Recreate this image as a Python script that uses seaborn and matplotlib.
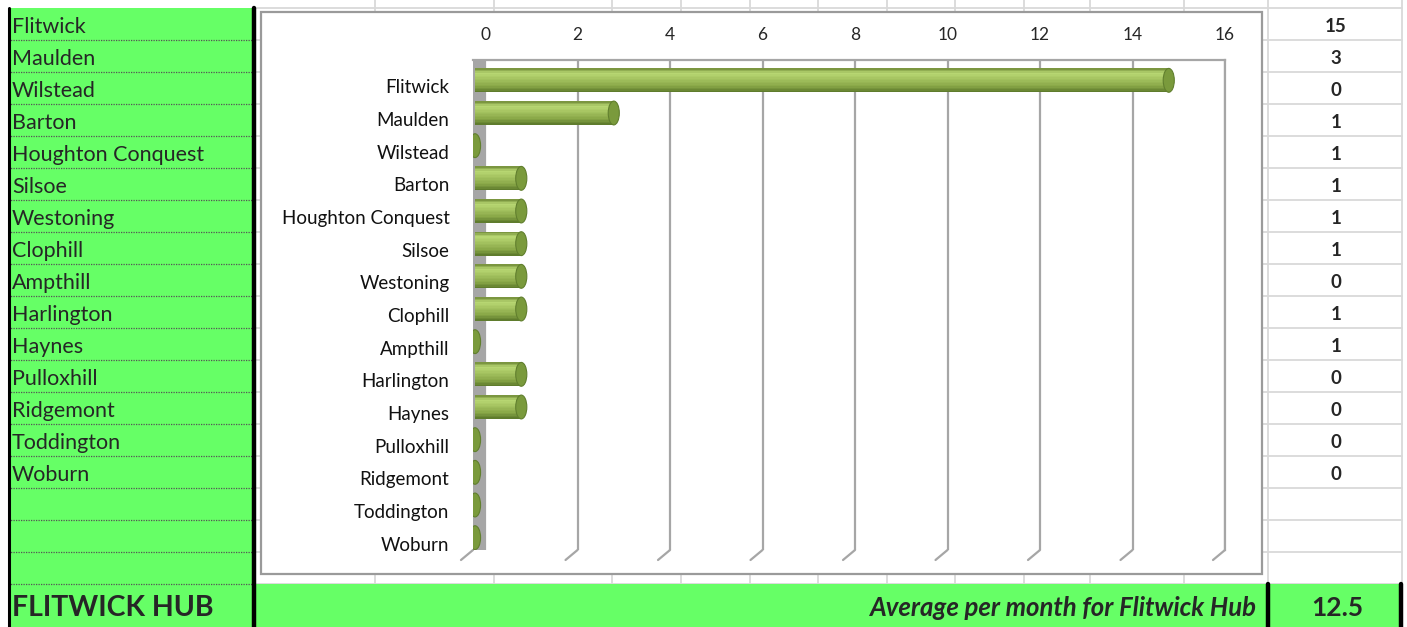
import numpy as np
import pandas as pd
import matplotlib
matplotlib.use("Agg")
import matplotlib.pyplot as plt
import seaborn as sns
from matplotlib.patches import Rectangle, Ellipse
from matplotlib.transforms import ScaledTranslation
from matplotlib.colors import LinearSegmentedColormap

# ---------------- data ----------------
towns = ["Flitwick", "Maulden", "Wilstead", "Barton", "Houghton Conquest", "Silsoe",
         "Westoning", "Clophill", "Ampthill", "Harlington", "Haynes", "Pulloxhill",
         "Ridgemont", "Toddington", "Woburn"]
counts = [15, 3, 0, 1, 1, 1, 1, 1, 0, 1, 1, 0, 0, 0, 0]
x_ticks = [0, 2, 4, 6, 8, 10, 12, 14, 16]
hub_title = "FLITWICK HUB"
avg_label = "Average per month for Flitwick Hub"
avg_value = "12.5"

sns.set_theme(style="white")
plt.rcParams["font.family"] = ["Lato", "DejaVu Sans"]

W, H = 1407, 627
fig = plt.figure(figsize=(W / 100, H / 100), dpi=100)
fig.patch.set_facecolor("white")

# ---------------- spreadsheet background (pixel coordinates) ----------------
bg = fig.add_axes([0, 0, 1, 1])
bg.set_xlim(0, W)
bg.set_ylim(H, 0)
bg.axis("off")

GREEN = "#66ff66"
GRID = "#d9d9d9"
ROW, TOP, NROWS = 32, 8, 18
HUB_TOP = TOP + ROW * NROWS

for k in range(NROWS + 1):
    y = TOP + k * ROW
    bg.plot([253, 1402], [y, y], color=GRID, lw=1.3, zorder=1)
for x in [375, 494, 612, 681, 750, 818, 887, 955, 1024, 1090, 1184, 1268, 1402]:
    bg.plot([x, x], [0, HUB_TOP], color=GRID, lw=1.3, zorder=1)

# left green column
bg.add_patch(Rectangle((8, TOP), 245, HUB_TOP - TOP, facecolor=GREEN, edgecolor="none", zorder=2))
for k in range(1, NROWS + 1):
    y = TOP + k * ROW
    bg.plot([8, 252], [y, y], color="#555555", lw=0.9, ls=(0, (1, 1)), zorder=3)
for i, t in enumerate(towns):
    bg.text(12, TOP + i * ROW + 19, t, fontsize=15.5, va="center", ha="left", zorder=4)

# right value column
for i, v in enumerate(counts):
    bg.text(1336, TOP + i * ROW + 19, str(v), fontsize=13.5, fontweight="bold",
            va="center", ha="center", zorder=4)

# hub row
bg.add_patch(Rectangle((8, HUB_TOP), 1393, H - HUB_TOP, facecolor=GREEN, edgecolor="none", zorder=2))
bg.text(12, 608, hub_title, fontsize=20.5, fontweight="bold", va="center", ha="left", zorder=4)
bg.text(1256, 608, avg_label, fontsize=18.5, fontweight="bold", fontstyle="italic",
        va="center", ha="right", zorder=4)
bg.text(1337, 608, avg_value, fontsize=19, fontweight="bold", va="center", ha="center", zorder=4)

# black borders
bg.plot([8.5, 8.5], [TOP, H], color="black", lw=2.2, zorder=5)
bg.plot([253.5, 253.5], [TOP, H], color="black", lw=3.2, zorder=5)
bg.plot([1267.5, 1267.5], [HUB_TOP, H], color="black", lw=3.2, zorder=5)
bg.plot([1400.5, 1400.5], [HUB_TOP, H], color="black", lw=3.2, zorder=5)

# chart frame
bg.add_patch(Rectangle((261, 12), 1001, 562, facecolor="white", edgecolor="#9a9a9a", lw=1.6, zorder=6))

# ---------------- chart ----------------
ax = fig.add_axes([473 / W, 1 - 550 / H, 752 / W, 490 / H])
ax.set_facecolor("none")
df = pd.DataFrame({"town": towns, "count": counts})
sns.barplot(data=df, x="count", y="town", orient="h", width=0.73, color="#9bbb59",
            ax=ax, zorder=3)

XMIN, XMAX = -0.26, 16
ax.set_xlim(XMIN, XMAX)
ax.set_ylim(len(towns) - 0.5, -0.5)

ax.axvspan(XMIN, 0, color="#a6a6a6", zorder=1, lw=0)
ax.set_xticks(x_ticks)
ax.grid(axis="x", color="#a6a6a6", lw=1.6, zorder=0)
ax.grid(axis="y", visible=False)
ax.xaxis.tick_top()
ax.tick_params(axis="x", length=0, pad=12, labelsize=12.5)
ax.tick_params(axis="y", length=0, pad=17, labelsize=13.5, labelcolor="#111111")
ax.set_yticks(np.arange(len(towns)) + 10 / 32.67, labels=towns)
ax.set_xlabel("")
ax.set_ylabel("")
for s in ["left", "bottom"]:
    ax.spines[s].set_visible(False)
for s in ["top", "right"]:
    ax.spines[s].set_color("#a6a6a6")
    ax.spines[s].set_linewidth(1.6)

# floor diagonals of the 3D grid
for t in [XMIN] + x_ticks[1:]:
    ax.annotate("", xy=(t, 0), xycoords=ax.get_xaxis_transform(), xytext=(-12, -10),
                textcoords="offset pixels", annotation_clip=False,
                arrowprops=dict(arrowstyle="-", color="#a6a6a6", lw=1.6, shrinkA=0, shrinkB=0))

# cylinder look for bars: horizontal shading bands laid over each seaborn bar
off = ScaledTranslation(-10 / 100, -4 / 100, fig.dpi_scale_trans)
cmap = LinearSegmentedColormap.from_list(
    "cyl", [(0, "#6f8a36"), (0.2, "#b9d873"), (0.4, "#a9c764"), (0.75, "#88a747"), (1, "#5a772a")])
NB = 16
tr = ax.transData + off
for p in list(ax.containers[0]):
    p.set_transform(tr)
    p.set_edgecolor("none")
    x0, y0, w, h = p.get_x(), p.get_y(), p.get_width(), p.get_height()
    if w > 0:
        for k in range(NB):
            ax.add_patch(Rectangle((x0, y0 + h * k / NB), w, h / NB * 1.05,
                                   facecolor=cmap((k + 0.5) / NB), edgecolor="none",
                                   transform=tr, zorder=3.5))
    cap = Ellipse((x0 + w, y0 + h / 2), width=0.24, height=h, transform=tr,
                  facecolor="#7a9a3c", edgecolor="#617f2e", lw=0.8, zorder=4)
    ax.add_patch(cap)

ax.set_xlim(XMIN, XMAX)
ax.set_ylim(len(towns) - 0.5, -0.5)

fig.savefig("out.png", dpi=100, facecolor="white")
